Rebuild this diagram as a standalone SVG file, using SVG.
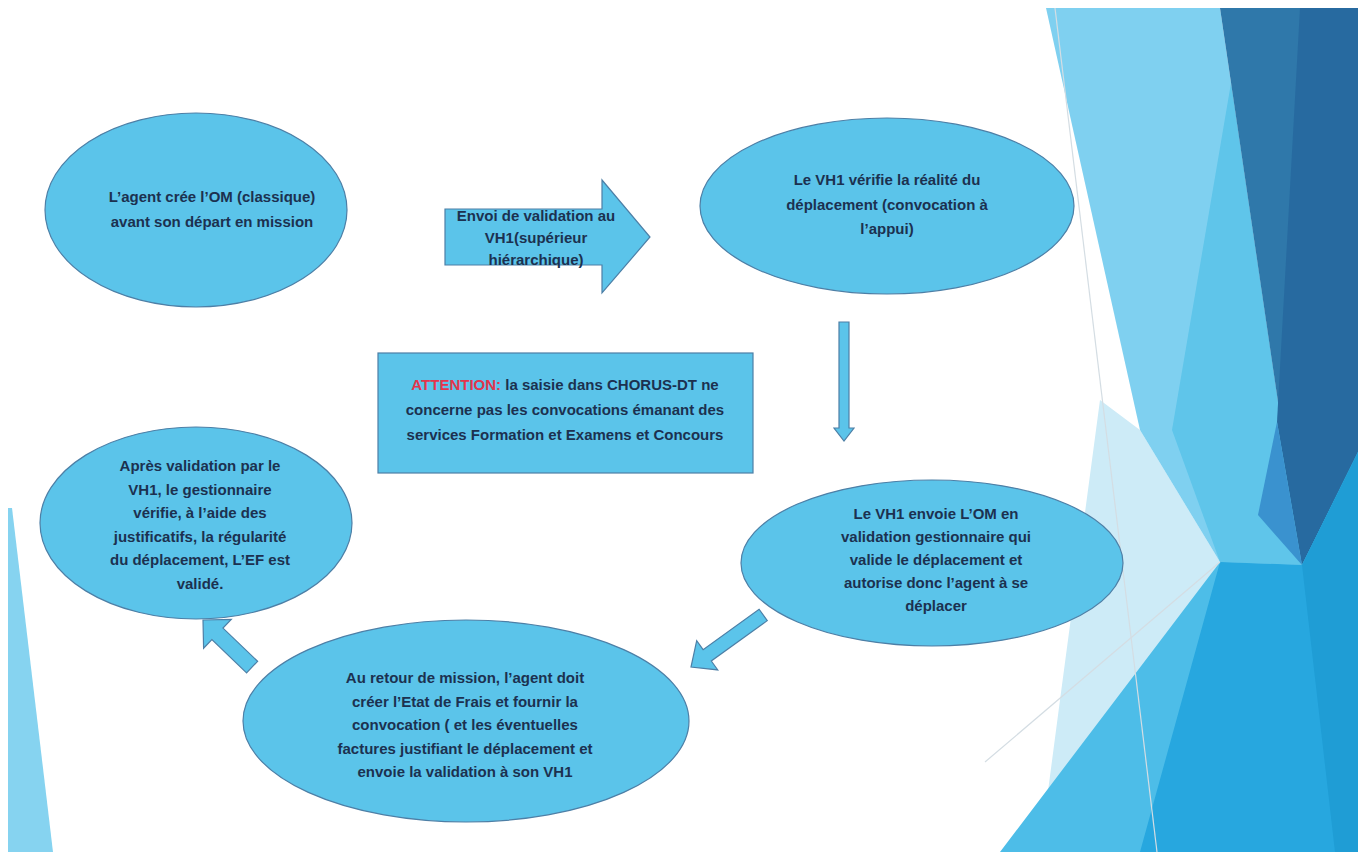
<svg xmlns="http://www.w3.org/2000/svg" width="1369" height="852" viewBox="0 0 1369 852">
<defs>
<style>
.shape{fill:#5bc4ea;stroke:#4d7fa6;stroke-width:1.2}
.t{font-family:"Liberation Sans",Arial,sans-serif;font-size:15px;font-weight:bold;fill:#1c3150;text-anchor:middle}
.red{fill:#e3344c}
.bgline{fill:none;stroke:#d4dde3;stroke-width:1.2}
</style>
</defs>
<rect width="1369" height="852" fill="#ffffff"/>
<g id="background">
<polygon points="8,508 12,508 53,852 8,852" fill="#86d3f0"/>
<polygon points="1100,400 1140,430 1220,562 1010,852 1040,852 1060,700" fill="#cdebf7"/>
<polygon points="1046,8 1220,8 1302,565 1220,562 1140,430" fill="#7fd0f0"/>
<polygon points="1231,83 1302,565 1220,562 1172,430" fill="#5fc5ea"/>
<polygon points="1220,8 1358,8 1358,455 1302,565" fill="#2f78aa"/>
<polygon points="1300,8 1358,8 1358,455 1302,565 1277,422" fill="#276aa0"/>
<polygon points="1277,422 1302,565 1258,515" fill="#3a92cf"/>
<polygon points="1000,852 1220,562 1302,565 1358,452 1358,852" fill="#4dbde8"/>
<polygon points="1140,852 1220,562 1302,565 1358,452 1358,852" fill="#27a7df"/>
<polygon points="1302,565 1358,452 1358,852 1335,852" fill="#1f9dd5"/>
<line class="bgline" x1="1055" y1="8" x2="1157" y2="852"/>
<line class="bgline" x1="985" y1="762" x2="1220" y2="562"/>
</g>
<g id="connectors">
<g id="arrow-1-2">
<polygon class="shape" points="445,209 602,209 602,180 650,237 602,293 602,265 445,265"/>
<text class="t" x="536" y="221">Envoi de validation au</text>
<text class="t" x="536" y="243">VH1(supérieur</text>
<text class="t" x="536" y="265">hiérarchique)</text>
</g>
<polygon id="arrow-2-3" class="shape" points="839,322 849,322 849,428 854,428 844,441 834,428 839,428"/>
<polygon id="arrow-3-4" class="shape" transform="translate(691,667) rotate(144.2)" points="-89,-7 -20,-7 -20,-18 0,0 -20,18 -20,7 -89,7"/>
<polygon id="arrow-4-5" class="shape" transform="translate(203,620) rotate(223.8)" points="-68,-8 -20,-8 -20,-20 0,0 -20,20 -20,8 -68,8"/>
</g>
<g id="node-1">
<ellipse class="shape" cx="196" cy="210" rx="151" ry="97"/>
<text class="t" x="212" y="202">L’agent crée l’OM (classique)</text>
<text class="t" x="212" y="227">avant son départ en mission</text>
</g>
<g id="node-2">
<ellipse class="shape" cx="887" cy="206" rx="187" ry="88"/>
<text class="t" x="887" y="185">Le VH1  vérifie la réalité du</text>
<text class="t" x="887" y="210">déplacement  (convocation à</text>
<text class="t" x="887" y="234">l’appui)</text>
</g>
<g id="note">
<rect class="shape" x="378" y="353" width="375" height="120" stroke-width="1.5"/>
<text class="t" x="565" y="390"><tspan class="red">ATTENTION:</tspan>  la saisie dans  CHORUS-DT ne</text>
<text class="t" x="565" y="415">concerne pas les convocations émanant  des</text>
<text class="t" x="565" y="440">services Formation et Examens  et Concours</text>
</g>
<g id="node-3">
<ellipse class="shape" cx="932" cy="563" rx="191" ry="83"/>
<text class="t" x="936" y="519">Le VH1 envoie L’OM en</text>
<text class="t" x="936" y="542">validation gestionnaire  qui</text>
<text class="t" x="936" y="565">valide le déplacement  et</text>
<text class="t" x="936" y="588">autorise  donc l’agent à se</text>
<text class="t" x="936" y="611">déplacer</text>
</g>
<g id="node-4">
<ellipse class="shape" cx="466" cy="721" rx="223" ry="101"/>
<text class="t" x="465" y="683">Au retour de mission, l’agent doit</text>
<text class="t" x="465" y="707">créer l’Etat de Frais et fournir la</text>
<text class="t" x="465" y="730">convocation ( et les éventuelles</text>
<text class="t" x="465" y="754">factures  justifiant  le déplacement et</text>
<text class="t" x="465" y="777">envoie la validation à son VH1</text>
</g>
<g id="node-5">
<ellipse class="shape" cx="196" cy="523" rx="156" ry="96"/>
<text class="t" x="200" y="471">Après validation par le</text>
<text class="t" x="200" y="495">VH1,  le gestionnaire</text>
<text class="t" x="200" y="518">vérifie, à l’aide des</text>
<text class="t" x="200" y="542">justificatifs, la régularité</text>
<text class="t" x="200" y="565">du déplacement, L’EF est</text>
<text class="t" x="200" y="589">validé.</text>
</g>
</svg>
